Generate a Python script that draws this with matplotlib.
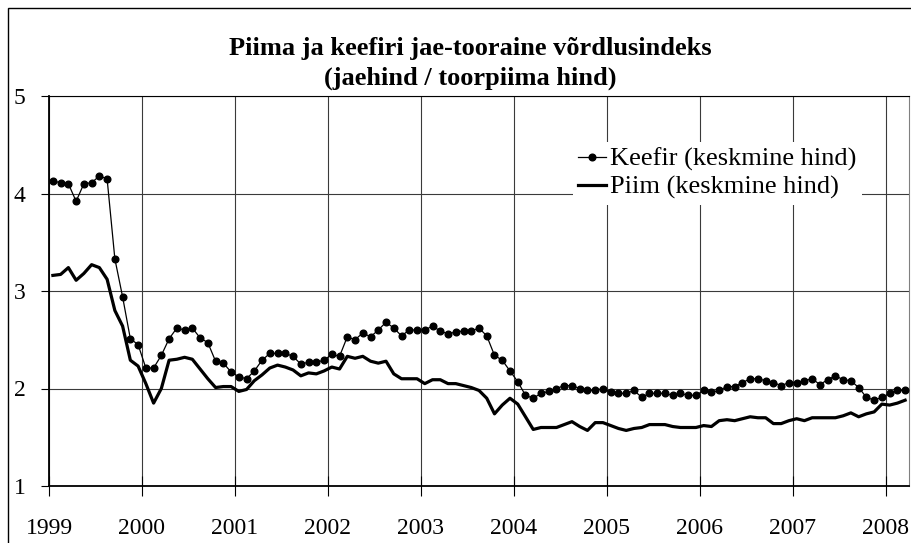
import numpy as np
import matplotlib
matplotlib.use("Agg")
import matplotlib.pyplot as plt
from matplotlib.patches import Rectangle
from matplotlib.lines import Line2D
from matplotlib.transforms import Bbox, TransformedBbox

plt.rcParams['font.family'] = ['Liberation Serif', 'DejaVu Serif']

# monthly values, Jan 1999 .. Mar 2008
keefir = [
    4.13, 4.11, 4.10, 3.92, 4.10, 4.11, 4.18, 4.15, 3.33, 2.94, 2.51, 2.45,  # 1999
    2.21, 2.21, 2.34, 2.51, 2.62, 2.60, 2.62, 2.52, 2.47, 2.28, 2.26, 2.17,  # 2000
    2.12, 2.10, 2.18, 2.29, 2.36, 2.36, 2.36, 2.33, 2.25, 2.27, 2.27, 2.29,  # 2001
    2.35, 2.33, 2.53, 2.50, 2.57, 2.53, 2.60, 2.68, 2.62, 2.54, 2.60, 2.60,  # 2002
    2.60, 2.64, 2.59, 2.56, 2.58, 2.59, 2.59, 2.62, 2.54, 2.34, 2.29, 2.18,  # 2003
    2.07, 1.93, 1.90, 1.95, 1.97, 2.00, 2.03, 2.03, 2.00, 1.98, 1.98, 2.00,  # 2004
    1.96, 1.95, 1.95, 1.98, 1.91, 1.95, 1.95, 1.95, 1.93, 1.95, 1.93, 1.93,  # 2005
    1.98, 1.96, 1.98, 2.02, 2.02, 2.06, 2.10, 2.10, 2.08, 2.06, 2.03, 2.06,  # 2006
    2.06, 2.08, 2.10, 2.04, 2.09, 2.13, 2.09, 2.08, 2.01, 1.91, 1.88, 1.91,  # 2007
    1.95, 1.98, 1.98,                                                        # 2008
]
piim = [
    3.16, 3.17, 3.24, 3.11, 3.18, 3.27, 3.24, 3.12, 2.80, 2.64, 2.29, 2.23,
    2.05, 1.85, 2.00, 2.29, 2.30, 2.32, 2.30, 2.20, 2.10, 2.01, 2.02, 2.02,
    1.97, 1.99, 2.08, 2.14, 2.21, 2.24, 2.22, 2.19, 2.13, 2.16, 2.15, 2.18,
    2.22, 2.20, 2.33, 2.31, 2.33, 2.28, 2.26, 2.28, 2.15, 2.10, 2.10, 2.10,
    2.05, 2.09, 2.09, 2.05, 2.05, 2.03, 2.01, 1.98, 1.90, 1.74, 1.83, 1.90,
    1.84, 1.71, 1.58, 1.60, 1.60, 1.60, 1.63, 1.66, 1.61, 1.57, 1.65, 1.65,
    1.62, 1.59, 1.57, 1.59, 1.60, 1.63, 1.63, 1.63, 1.61, 1.60, 1.60, 1.60,
    1.62, 1.61, 1.67, 1.68, 1.67, 1.69, 1.71, 1.70, 1.70, 1.64, 1.64, 1.67,
    1.69, 1.67, 1.70, 1.70, 1.70, 1.70, 1.72, 1.75, 1.71, 1.74, 1.76, 1.84,
    1.83, 1.85, 1.88,
]
years = list(range(1999, 2009))
yticks = [1, 2, 3, 4, 5]

title1 = "Piima ja keefiri jae-tooraine võrdlusindeks"
title2 = "(jaehind / toorpiima hind)"
lab_keefir = "Keefir (keskmine hind)"
lab_piim = "Piim (keskmine hind)"

# points sit in the middle of each month
t = 1999 + (np.arange(len(keefir)) + 0.5) / 12

W, H = 911, 543
fig = plt.figure(figsize=(W / 100, H / 100), dpi=100)
ax = fig.add_axes([49 / W, 1 - 486 / H, 860 / W, 390 / H])

ax.plot(t, keefir, color='black', lw=0.9, marker='o', ms=4.8, zorder=3)
ax.plot(t, piim, color='black', lw=2.3, solid_joinstyle='round', zorder=3)

ax.set_xlim(1999, 2008.25)
ax.set_ylim(1, 5)
ax.set_xticks(years)
ax.set_yticks(yticks)
ax.tick_params(axis='x', direction='inout', length=14, width=0.8, pad=16, labelsize=17)
ax.tick_params(axis='y', direction='out', length=6, width=0.8, pad=11, labelsize=17)
ax.grid(True, color='#3a3a3a', lw=0.8)
ax.set_axisbelow(True)

for s in ['left', 'bottom']:
    ax.spines[s].set_linewidth(1.3)
ax.spines['top'].set_linewidth(0.8)
ax.spines['right'].set_color('#808080')
ax.spines['right'].set_linewidth(0.8)

# the chart area ends at x=909, the last year label is cut there
clip = TransformedBbox(Bbox([[0, 0], [909 / W, 1]]), fig.transFigure)
for lab in ax.get_xticklabels():
    lab.set_clip_box(clip)
    lab.set_clip_on(True)

handles = [
    Line2D([], [], color='black', lw=0.9, marker='o', ms=4.8),
    Line2D([], [], color='black', lw=2.3),
]
leg = ax.legend(handles, [lab_keefir, lab_piim], loc='upper left',
                bbox_to_anchor=(0.609, 0.882), frameon=True, fancybox=False,
                edgecolor='none', facecolor='white', framealpha=1,
                fontsize=19, handlelength=1.06, handletextpad=0.15,
                labelspacing=0.16, borderpad=0.2, borderaxespad=0)
leg.get_frame().set_linewidth(0)
leg.set_zorder(5)

fig.text(470 / W, 1 - 48 / H, title1, ha='center', va='center',
         fontsize=19, fontweight='bold')
fig.text(470 / W, 1 - 78 / H, title2, ha='center', va='center',
         fontsize=19, fontweight='bold')

# outer chart border (cropped on right and bottom)
fig.patches.append(Rectangle((8 / W, -0.5), 2, 0.5 + 1 - 8 / H, fill=False,
                             lw=1.0, ec='black', transform=fig.transFigure))

fig.savefig('out.png', dpi=100)
